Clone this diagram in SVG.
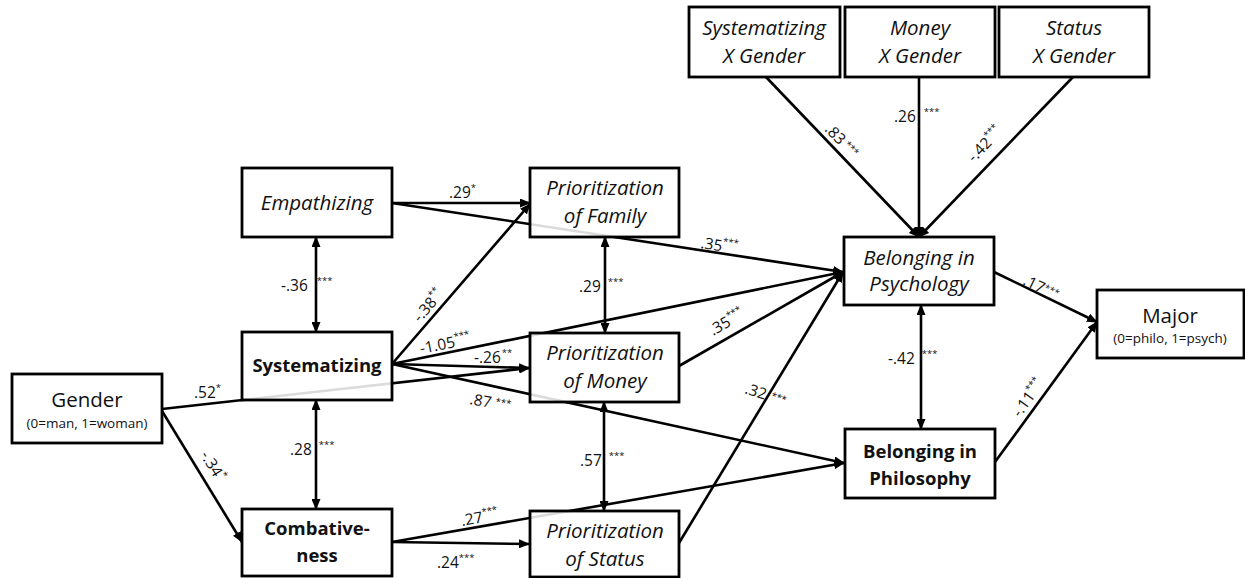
<svg xmlns="http://www.w3.org/2000/svg" width="1245" height="578" viewBox="0 0 1245 578">
<defs>
<marker id="ah" markerUnits="userSpaceOnUse" markerWidth="11" markerHeight="9" refX="10" refY="4.5" orient="auto-start-reverse">
<path d="M0,0 L11,4.5 L0,9 z" fill="#000"/>
</marker>
<style>
.box{fill:#fff;fill-opacity:0.86;stroke:#000;stroke-width:2.8}
.ln{stroke:#000;stroke-width:2.6;fill:none}
.arr{marker-end:url(#ah)}
.dbl{marker-start:url(#ah);marker-end:url(#ah)}
.t{font-family:"Open Sans","Liberation Sans",sans-serif;fill:#111;text-anchor:middle}
.it{font-style:italic;font-size:20.5px}
.bd{font-weight:bold;font-size:18.5px}
.rg{font-size:20.5px}
.sm{font-size:13.5px}
.lb{font-family:"Open Sans","Liberation Sans",sans-serif;font-size:15.5px;fill:#111}
.st{font-size:9.5px}
</style>
</defs>
<rect width="1245" height="578" fill="#fff"/>
<g id="connectors">
<line class="ln arr" x1="162" y1="411" x2="242" y2="542"/>
<line class="ln arr" x1="162" y1="409" x2="529" y2="368"/>
<line class="ln arr" x1="392" y1="203" x2="530" y2="203"/>
<line class="ln arr" x1="392" y1="203" x2="843" y2="272"/>
<line class="ln arr" x1="392" y1="364" x2="530" y2="204"/>
<line class="ln arr" x1="392" y1="364" x2="843" y2="272"/>
<line class="ln arr" x1="392" y1="364" x2="529" y2="368"/>
<line class="ln arr" x1="392" y1="364" x2="844" y2="463"/>
<line class="ln arr" x1="392" y1="542" x2="529" y2="544"/>
<line class="ln arr" x1="392" y1="542" x2="844" y2="463"/>
<line class="ln arr" x1="679" y1="366" x2="843" y2="272"/>
<line class="ln arr" x1="679" y1="543" x2="843" y2="272"/>
<line class="ln arr" x1="766" y1="77" x2="919" y2="237"/>
<line class="ln arr" x1="919" y1="77" x2="919" y2="237"/>
<line class="ln arr" x1="1073" y1="77" x2="919" y2="237"/>
<line class="ln arr" x1="994" y1="272" x2="1097" y2="322"/>
<line class="ln arr" x1="995" y1="462" x2="1097" y2="322"/>
<line class="ln dbl" x1="316" y1="237" x2="316" y2="332"/>
<line class="ln dbl" x1="316" y1="400" x2="316" y2="509"/>
<line class="ln dbl" x1="605" y1="237" x2="605" y2="333"/>
<line class="ln dbl" x1="604" y1="402" x2="604" y2="511"/>
<line class="ln dbl" x1="921" y1="305" x2="921" y2="429"/>
</g>
<g id="gender"><rect class="box" x="12" y="374" width="150" height="69"/>
<text class="t rg" x="87" y="407">Gender</text><text class="t sm" x="87" y="428">(0=man, 1=woman)</text></g>
<g id="empathizing"><rect class="box" x="242" y="168" width="150" height="69"/>
<text class="t it" x="317" y="210">Empathizing</text></g>
<g id="systematizing"><rect class="box" x="242" y="332" width="150" height="68"/>
<text class="t bd" x="317" y="372">Systematizing</text></g>
<g id="combativeness"><rect class="box" x="242" y="509" width="150" height="67"/>
<text class="t bd" x="317" y="535">Combative-</text><text class="t bd" x="317" y="562">ness</text></g>
<g id="family"><rect class="box" x="530" y="168" width="149" height="69"/>
<text class="t it" x="605" y="195">Prioritization</text><text class="t it" x="605" y="223">of Family</text></g>
<g id="money"><rect class="box" x="530" y="333" width="149" height="69"/>
<text class="t it" x="605" y="360">Prioritization</text><text class="t it" x="605" y="388">of Money</text></g>
<g id="status"><rect class="box" x="530" y="511" width="149" height="66"/>
<text class="t it" x="605" y="538">Prioritization</text><text class="t it" x="605" y="566">of Status</text></g>
<g id="sysxgender"><rect class="box" x="689" y="7" width="151" height="70"/>
<text class="t it" x="764" y="35">Systematizing</text><text class="t it" x="764" y="63">X Gender</text></g>
<g id="moneyxgender"><rect class="box" x="845" y="7" width="150" height="70"/>
<text class="t it" x="920" y="35">Money</text><text class="t it" x="920" y="63">X Gender</text></g>
<g id="statusxgender"><rect class="box" x="999" y="7" width="150" height="70"/>
<text class="t it" x="1074" y="35">Status</text><text class="t it" x="1074" y="63">X Gender</text></g>
<g id="psychology"><rect class="box" x="844" y="237" width="150" height="68"/>
<text class="t it" x="919" y="265">Belonging in</text><text class="t it" x="919" y="291">Psychology</text></g>
<g id="philosophy"><rect class="box" x="845" y="429" width="150" height="69"/>
<text class="t bd" x="920" y="458">Belonging in</text><text class="t bd" x="920" y="485">Philosophy</text></g>
<g id="major"><rect class="box" x="1097" y="290" width="147" height="68"/>
<text class="t rg" x="1170" y="323">Major</text><text class="t sm" x="1170" y="343">(0=philo, 1=psych)</text></g>
<g id="labels">
<text class="lb" x="449" y="198">.29<tspan class="st" dy="-7">*</tspan></text>
<text class="lb" transform="rotate(8.7 700 248)" x="700" y="248">.35<tspan class="st" dy="-7">***</tspan></text>
<text class="lb" x="281" y="291">-.36<tspan class="st" dx="9" dy="-7">***</tspan></text>
<text class="lb" x="579" y="292">.29<tspan class="st" dx="7" dy="-7">***</tspan></text>
<text class="lb" transform="rotate(-49 420 323)" x="420" y="323">-.38<tspan class="st" dy="-7">**</tspan></text>
<text class="lb" transform="rotate(-11.5 421 354)" x="421" y="354">-1.05<tspan class="st" dy="-7">***</tspan></text>
<text class="lb" x="474" y="363">-.26<tspan class="st" dx="1" dy="-7">**</tspan></text>
<text class="lb" transform="rotate(10 469 404)" x="469" y="404">.87<tspan class="st" dx="4" dy="-4">***</tspan></text>
<text class="lb" x="194" y="398">.52<tspan class="st" dy="-7">*</tspan></text>
<text class="lb" transform="rotate(58.4 200 455)" x="200" y="455">-.34<tspan class="st" dy="-7">*</tspan></text>
<text class="lb" x="290" y="455">.28<tspan class="st" dx="7" dy="-7">***</tspan></text>
<text class="lb" x="580" y="466">.57<tspan class="st" dx="7" dy="-7">***</tspan></text>
<text class="lb" transform="rotate(-10 462 526)" x="462" y="526">.27<tspan class="st" dy="-7">***</tspan></text>
<text class="lb" x="437" y="568">.24<tspan class="st" dy="-7">***</tspan></text>
<text class="lb" transform="rotate(-30 713 336)" x="713" y="336">.35<tspan class="st" dy="-7">***</tspan></text>
<text class="lb" transform="rotate(18 744 393)" x="744" y="393">.32<tspan class="st" dx="5" dy="-3">***</tspan></text>
<text class="lb" transform="rotate(46 824 130)" x="824" y="130">.83<tspan class="st" dx="3" dy="-4">***</tspan></text>
<text class="lb" x="894" y="122">.26<tspan class="st" dx="8" dy="-7">***</tspan></text>
<text class="lb" transform="rotate(-46 974 163)" x="974" y="163">-.42<tspan class="st" dy="-7">***</tspan></text>
<text class="lb" transform="rotate(26 1022 284)" x="1022" y="284">.17<tspan class="st" dy="-4">***</tspan></text>
<text class="lb" transform="rotate(-54 1020 418)" x="1020" y="418">-.11<tspan class="st" dy="-7">***</tspan></text>
<text class="lb" x="888" y="364">-.42<tspan class="st" dx="7" dy="-7">***</tspan></text>
</g>
</svg>
